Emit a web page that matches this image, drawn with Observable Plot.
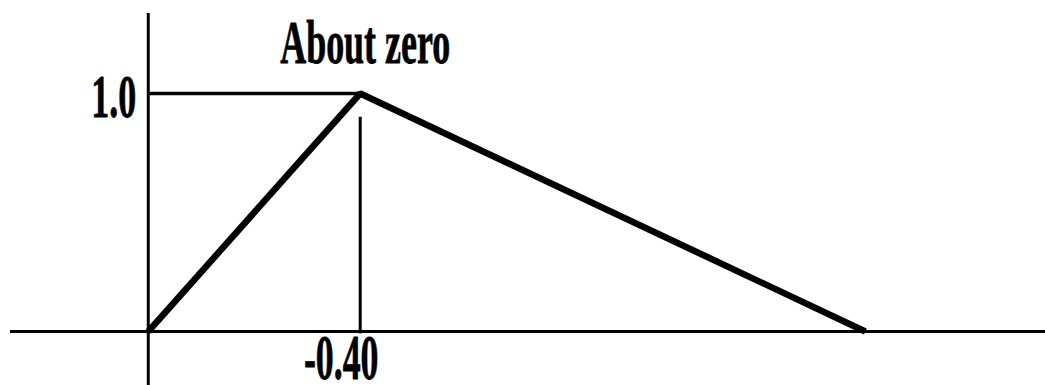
<!DOCTYPE html>
<html>
<head>
<meta charset="utf-8">
<script src="https://cdn.jsdelivr.net/npm/d3@7"></script>
<script src="https://cdn.jsdelivr.net/npm/@observablehq/plot@0.6"></script>
<style>
  html, body { margin: 0; padding: 0; background: #fff; }
</style>
</head>
<body>
<div id="chart"></div>
<script>
// Membership function "About zero" (triangular)
const xValues = [-1.0, -0.4, 1.03];
const membership = [0, 1, 0];
const peakX = -0.4;
const peakY = 1.0;
const titleLabel = "About zero";
const yTickLabel = "1.0";
const xTickLabel = "-0.40";

const pts = xValues.map((x, i) => ({x, y: membership[i]}));
const font = "'Liberation Serif', 'Times New Roman', serif";

const plot = Plot.plot({
  width: 1045,
  height: 385,
  marginLeft: 10,
  marginRight: 0,
  marginTop: 13,
  marginBottom: 0,
  x: {domain: [-1.39, 1.54], axis: null},
  y: {domain: [-0.227, 1.336], axis: null},
  style: {background: "#fff"},
  marks: [
    Plot.ruleY([0], {stroke: "#000", strokeWidth: 3}),
    Plot.ruleX([xValues[0]], {stroke: "#000", strokeWidth: 3}),
    Plot.ruleY([peakY], {x1: xValues[0], x2: peakX, stroke: "#000", strokeWidth: 3.5}),
    Plot.ruleX([peakX], {y1: -0.01, y2: 0.9, stroke: "#000", strokeWidth: 3}),
    Plot.line(pts, {x: "x", y: "y", stroke: "#000", strokeWidth: 6.5,
      strokeLinejoin: "miter", strokeLinecap: "butt"}),
    Plot.text([titleLabel], {x: peakX, y: peakY, text: d => d, dx: 5, dy: -50,
      textAnchor: "middle", fontFamily: font, fontWeight: "bold", fontSize: 62,
      fill: "#000", stroke: "#000", strokeWidth: 0.8, className: "sx058"}),
    Plot.text([yTickLabel], {x: xValues[0], y: peakY, text: d => d, dx: -12, dy: 4,
      textAnchor: "end", fontFamily: font, fontWeight: "bold", fontSize: 62,
      fill: "#000", stroke: "#000", strokeWidth: 0.8, className: "sx058"}),
    Plot.text([xTickLabel], {x: peakX, y: 0, text: d => d, dx: -19, dy: 27,
      textAnchor: "middle", fontFamily: font, fontWeight: "bold", fontSize: 64,
      fill: "#000", stroke: "#000", strokeWidth: 0.8, className: "sx056"})
  ]
});

// condensed type, like the reference
const scales = {sx058: 0.58, sx056: 0.56};
for (const [cls, s] of Object.entries(scales)) {
  plot.querySelectorAll("g." + cls + " text").forEach(t => {
    const tr = t.getAttribute("transform") || "";
    t.setAttribute("transform", tr + ` scale(${s},1)`);
  });
}
document.getElementById("chart").appendChild(plot);
</script>
</body>
</html>
